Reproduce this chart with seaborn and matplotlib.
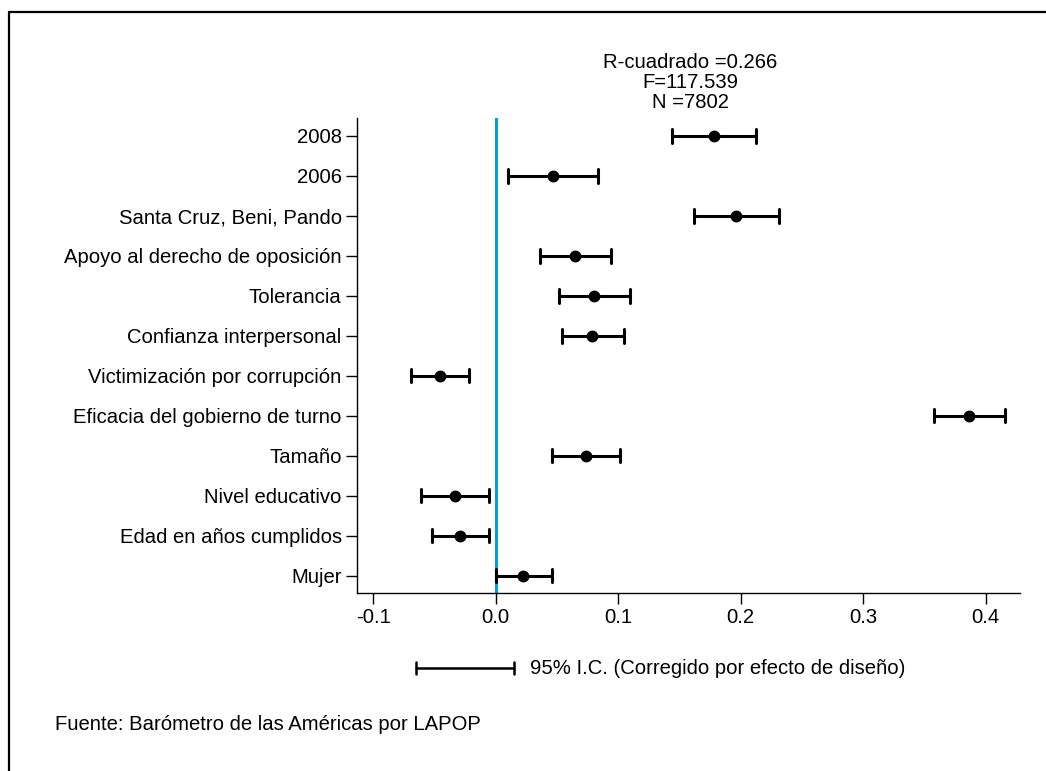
import matplotlib
matplotlib.use("Agg")
import matplotlib.pyplot as plt
import seaborn as sns
import pandas as pd
import numpy as np
from matplotlib.lines import Line2D

categories = ["2008", "2006", "Santa Cruz, Beni, Pando", "Apoyo al derecho de oposición",
              "Tolerancia", "Confianza interpersonal", "Victimización por corrupción",
              "Eficacia del gobierno de turno", "Tamaño", "Nivel educativo",
              "Edad en años cumplidos", "Mujer"]
coef = [0.178, 0.0465, 0.196, 0.065, 0.080, 0.079, -0.0456, 0.3865, 0.0737, -0.0332, -0.0288, 0.0226]
ci_low = [0.1442, 0.0103, 0.1619, 0.0362, 0.052, 0.0539, -0.069, 0.358, 0.046, -0.0606, -0.0522, 0.0]
ci_high = [0.2122, 0.0833, 0.231, 0.0944, 0.1097, 0.1045, -0.0215, 0.4157, 0.1015, -0.0058, -0.0055, 0.0456]
xticks = [-0.1, 0.0, 0.1, 0.2, 0.3, 0.4]
stats_text = ["R-cuadrado =0.266", "F=117.539", "N =7802"]
legend_text = "95% I.C. (Corregido por efecto de diseño)"
source_text = "Fuente: Barómetro de las Américas por LAPOP"

rows = []
for c, lo, m, hi in zip(categories, ci_low, coef, ci_high):
    for v in (lo, m, hi):
        rows.append({"var": c, "val": v})
df = pd.DataFrame(rows)

sns.set_theme(style="white")
plt.rcParams["font.family"] = ["Liberation Sans", "DejaVu Sans"]
plt.rcParams["text.color"] = "black"
plt.rcParams["xtick.color"] = "black"
plt.rcParams["ytick.color"] = "black"

FS = 14.6
W, H = 1046, 771
fig = plt.figure(figsize=(W / 100, H / 100), dpi=100)
ax = fig.add_axes([357 / W, 1 - 593 / H, (1020 - 357) / W, (593 - 118) / H])

ax.axvline(0, color="#00A0E3", lw=2.2, zorder=1)

sns.pointplot(data=df, x="val", y="var", order=categories,
              estimator=np.median, errorbar=lambda v: (v.min(), v.max()),
              color="black", linestyle="none", markers="o", markersize=6.5,
              capsize=0.33, err_kws={"linewidth": 2.2}, ax=ax, zorder=3)

ax.set_xlim(-0.1132, 0.428)
ax.set_ylim(11.43, -0.45)
ax.set_xticks(xticks)
ax.set_xticklabels([f"{t:.1f}" for t in xticks])
ax.set_xlabel("")
ax.set_ylabel("")
for s in ["top", "right"]:
    ax.spines[s].set_visible(False)
for s in ["left", "bottom"]:
    ax.spines[s].set_color("black")
    ax.spines[s].set_linewidth(1.0)
ax.tick_params(axis="both", which="both", direction="out", length=8, width=1.0,
               color="black", labelsize=FS, labelcolor="black", pad=3,
               left=True, bottom=True)

# stats text
for i, t in enumerate(stats_text):
    fig.text(690 / W, 1 - (63 + i * 19.5) / H, t, ha="center", va="center", fontsize=FS)

# legend-like CI sample
ly = 1 - 668 / H
fig.add_artist(Line2D([416 / W, 514 / W], [ly, ly], color="black", lw=1.8))
for xx in (416, 514):
    fig.add_artist(Line2D([xx / W, xx / W], [ly - 6 / H, ly + 6 / H], color="black", lw=1.8))
fig.text(530 / W, ly, legend_text, ha="left", va="center", fontsize=FS)

fig.text(55 / W, 1 - 724 / H, source_text, ha="left", va="center", fontsize=FS)

# outer frame (left and top)
fig.add_artist(Line2D([9 / W, 9 / W], [0, 1 - 12 / H], color="black", lw=1.6))
fig.add_artist(Line2D([9 / W, 1], [1 - 12 / H, 1 - 12 / H], color="black", lw=1.6))

fig.savefig("out.png", dpi=100)
